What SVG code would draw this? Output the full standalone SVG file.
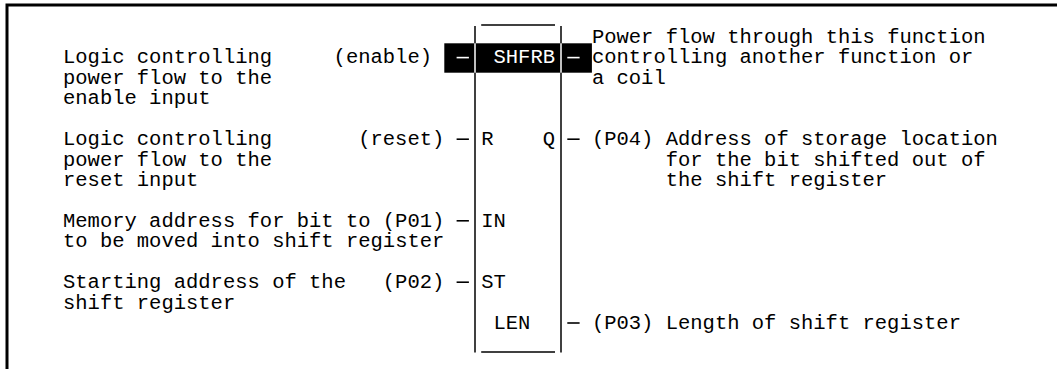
<svg xmlns="http://www.w3.org/2000/svg" width="1057" height="369" viewBox="0 0 1057 369">
  <style>
    .t { font-family: "Liberation Mono", "Courier New", monospace; font-size: 20.5px; fill: #000; }
    .tw { fill: #fff; }
    .ln { stroke: #000; stroke-width: 1.5; fill: none; }
    .lw { stroke: #fff; }
    .stub { stroke: #000; stroke-width: 1.6; fill: none; }
    .stubw { stroke: #fff; }
  </style>
  <rect x="0" y="0" width="1057" height="369" fill="#fff"/>
  <g id="frame">
    <path d="M7,369 V5 H1057" fill="none" stroke="#000" stroke-width="3"/>
  </g>
  <g id="block-shfrb">
    <line class="ln" x1="481.2" y1="25" x2="555" y2="25"/>
    <line class="ln" x1="481.2" y1="352" x2="555" y2="352"/>
    <line class="ln" x1="475" y1="26" x2="475" y2="352.5"/>
    <line class="ln" x1="561" y1="26" x2="561" y2="352.5"/>
    <rect x="444.3" y="43.3" width="147.6" height="29.4" fill="#000"/>
    <line class="ln lw" x1="475" y1="43.3" x2="475" y2="72.7"/>
    <line class="ln lw" x1="561" y1="43.3" x2="561" y2="72.7"/>
    <text class="t tw" x="493.5" y="63.4">SHFRB</text>
    <text class="t" x="481.2" y="145.1">R</text>
    <text class="t" x="542.7" y="145.1">Q</text>
    <text class="t" x="481.2" y="226.8">IN</text>
    <text class="t" x="481.2" y="288">ST</text>
    <text class="t" x="493.5" y="328.9">LEN</text>
  </g>
  <g id="connectors">
    <line class="stub stubw" x1="456.6" y1="57.6" x2="468.9" y2="57.6"/>
    <line class="stub stubw" x1="567.3" y1="57.6" x2="579.6" y2="57.6"/>
    <line class="stub" x1="456.6" y1="139.2" x2="468.9" y2="139.2"/>
    <line class="stub" x1="567.3" y1="139.2" x2="579.6" y2="139.2"/>
    <line class="stub" x1="456.6" y1="220.8" x2="468.9" y2="220.8"/>
    <line class="stub" x1="456.6" y1="282.2" x2="468.9" y2="282.2"/>
    <line class="stub" x1="567.3" y1="323" x2="579.6" y2="323"/>
  </g>
  <g id="note-enable">
    <text class="t" x="63" y="63.4">Logic controlling</text>
    <text class="t" x="63" y="83.8">power flow to the</text>
    <text class="t" x="63" y="104.3">enable input</text>
    <text class="t" x="333.6" y="63.4">(enable)</text>
  </g>
  <g id="note-reset">
    <text class="t" x="63" y="145.1">Logic controlling</text>
    <text class="t" x="63" y="165.5">power flow to the</text>
    <text class="t" x="63" y="185.9">reset input</text>
    <text class="t" x="358.2" y="145.1">(reset)</text>
  </g>
  <g id="note-p01">
    <text class="t" x="63" y="226.8">Memory address for bit to</text>
    <text class="t" x="63" y="247.2">to be moved into shift register</text>
    <text class="t" x="382.8" y="226.8">(P01)</text>
  </g>
  <g id="note-p02">
    <text class="t" x="63" y="288">Starting address of the</text>
    <text class="t" x="63" y="308.5">shift register</text>
    <text class="t" x="382.8" y="288">(P02)</text>
  </g>
  <g id="note-output">
    <text class="t" x="591.9" y="43">Power flow through this function</text>
    <text class="t" x="591.9" y="63.4">controlling another function or</text>
    <text class="t" x="591.9" y="83.8">a coil</text>
  </g>
  <g id="note-p04">
    <text class="t" x="591.9" y="145.1">(P04)</text>
    <text class="t" x="665.7" y="145.1">Address of storage location</text>
    <text class="t" x="665.7" y="165.5">for the bit shifted out of</text>
    <text class="t" x="665.7" y="185.9">the shift register</text>
  </g>
  <g id="note-p03">
    <text class="t" x="591.9" y="328.9">(P03)</text>
    <text class="t" x="665.7" y="328.9">Length of shift register</text>
  </g>
</svg>
